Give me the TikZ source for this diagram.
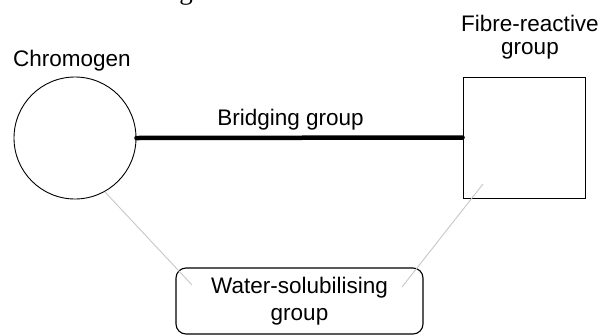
\documentclass[tikz,border=0pt]{standalone}
\usepackage{fontspec}
\setmainfont{Liberation Sans}
\newfontfamily\headserif{Liberation Serif}
\begin{document}
\begin{tikzpicture}[x=1pt,y=-1pt,
  lbl/.style={inner sep=0pt, font=\fontsize{22.5}{23.5}\selectfont, align=center},
  outline/.style={draw=black, line width=0.9pt, inner sep=0pt},
  bridge/.style={line width=4.5pt, line cap=round},
  feeder/.style={draw=black!22, line width=0.9pt}]
\useasboundingbox (0,0) rectangle (602,335);

% heading, only its lowest stroke falls inside the page
\node[inner sep=0pt, anchor=base, font=\headserif\fontsize{27}{30}\selectfont] (headfrag) at (186,-1) {g};

% the three parts of the molecule
\node[outline, circle, minimum size=122pt] (chromo) at (75,138) {};
\node[outline, minimum width=122pt, minimum height=121pt] (fibre) at (524,137.5) {};
\node[outline, line width=1.1pt, rounded corners=10pt, minimum width=247pt, minimum height=66pt,
      align=center, font=\fontsize{22.5}{26.5}\selectfont] (wsg) at (299.5,301) {Water-solubilising\\group};

% labels
\node[lbl, anchor=base] (chromotxt) at (72,66.5) {Chromogen};
\node[lbl] (fibretxt) at (530,37.4) {Fibre-reactive\\group};
\node[lbl, anchor=base] (bridgetxt) at (290.5,125) {Bridging group};

% light links to the solubilising group
\coordinate (lfoot) at (192,285);
\coordinate (rhead) at (483,184);
\coordinate (rfoot) at (402,287);
\draw[feeder] (chromo.-61) -- (lfoot);
\draw[feeder] (rhead) -- (rfoot);

% bridging group
\draw[bridge] (chromo.east) -- (fibre.west);
\end{tikzpicture}
\end{document}
